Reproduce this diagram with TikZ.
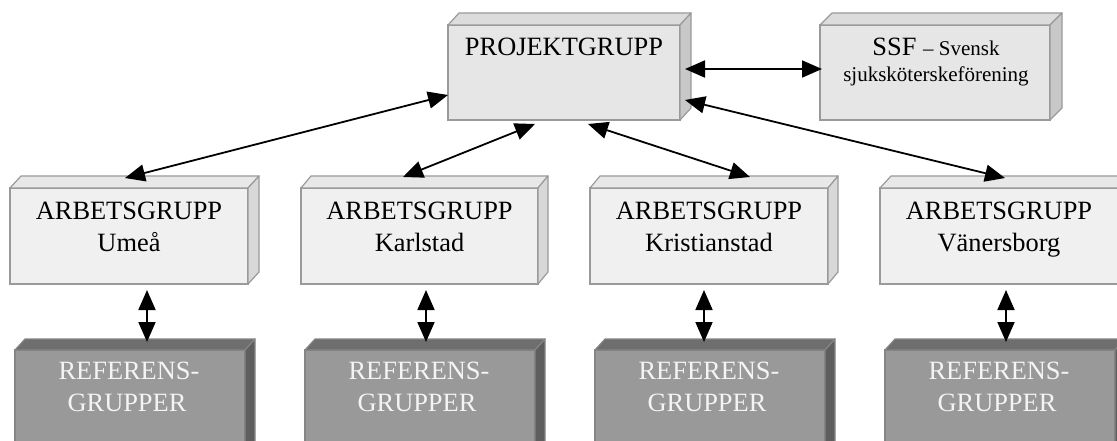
\documentclass[tikz,border=0pt]{standalone}
\usepackage{fontspec}
\setmainfont{Liberation Serif}
\usetikzlibrary{arrows.meta,calc}
\definecolor{projfront}{HTML}{E6E6E6}
\definecolor{projtop}{HTML}{DCDCDC}
\definecolor{projside}{HTML}{C8C8C8}
\definecolor{projedge}{HTML}{9A9A9A}
\definecolor{arbfront}{HTML}{F0F0F0}
\definecolor{arbtop}{HTML}{E8E8E8}
\definecolor{arbside}{HTML}{D8D8D8}
\definecolor{arbedge}{HTML}{9A9A9A}
\definecolor{reffront}{HTML}{999999}
\definecolor{reftop}{HTML}{6E6E6E}
\definecolor{refside}{HTML}{5E5E5E}
\definecolor{refedge}{HTML}{858585}
\definecolor{reftext}{HTML}{F4F4F4}
\newcommand{\bigtxt}{\fontsize{26.4}{32}\selectfont}
\newcommand{\smalltxt}{\fontsize{21}{26}\selectfont}
\tikzset{
  face/.style={anchor=north west, inner sep=0pt, outer sep=0pt, line width=1.2pt},
  lbl/.style={anchor=base, inner sep=0pt, font=\bigtxt},
  reflbl/.style={lbl, text=reftext},
  arr/.style={{Triangle[length=20pt,width=17pt]}-{Triangle[length=20pt,width=17pt]}, line width=1.8pt, black},
}
% name, x, y, w, h, prefix, dx, dy
\newcommand{\boxc}[8]{%
  \node[face, draw=#6edge, fill=#6front, minimum width=#4pt, minimum height=#5pt] (#1) at (#2,#3) {};
  \filldraw[draw=#6edge, fill=#6top, line width=1.2pt, line join=round]
    (#1.north west) -- ([shift={(#7,-#8)}]#1.north west) -- ([shift={(#7,-#8)}]#1.north east) -- (#1.north east) -- cycle;
  \filldraw[draw=#6edge, fill=#6side, line width=1.2pt, line join=round]
    (#1.north east) -- ([shift={(#7,-#8)}]#1.north east) -- ([shift={(#7,-#8)}]#1.south east) -- (#1.south east) -- cycle;
}
\begin{document}
\begin{tikzpicture}[x=1pt,y=-1pt]
\clip (0,0) rectangle (1117,441);
\fill[white] (0,0) rectangle (1117,441);

% top row
\boxc{proj}{448}{25}{232}{95}{proj}{11}{12}
\boxc{ssf}{820}{25}{230}{95}{proj}{12}{12}
\node[lbl] (projt) at ($(proj.north)+(0,31)$) {PROJEKTGRUPP};
\node[lbl] (ssft1) at ($(ssf.north)+(1,31)$) {SSF {\smalltxt – Svensk}};
\node[lbl, font=\smalltxt] (ssft2) at ($(ssf.north)+(1,57)$) {sjuksköterskeförening};

% middle row
\boxc{ume}{10}{188}{238}{96}{arb}{11}{12}
\boxc{kar}{301}{188}{237}{96}{arb}{10}{12}
\boxc{kri}{590}{188}{238}{96}{arb}{10}{12}
\boxc{van}{880}{188}{238}{96}{arb}{11}{12}
\node[lbl] (umet1) at ($(ume.north)+(0,31)$) {ARBETSGRUPP};
\node[lbl] (umet2) at ($(ume.north)+(0,63)$) {Umeå};
\node[lbl] (kart1) at ($(kar.north)+(0,31)$) {ARBETSGRUPP};
\node[lbl] (kart2) at ($(kar.north)+(0,63)$) {Karlstad};
\node[lbl] (krit1) at ($(kri.north)+(0,31)$) {ARBETSGRUPP};
\node[lbl] (krit2) at ($(kri.north)+(0,63)$) {Kristianstad};
\node[lbl] (vant1) at ($(van.north)+(0,31)$) {ARBETSGRUPP};
\node[lbl] (vant2) at ($(van.north)+(0,63)$) {Vänersborg};

% bottom row
\boxc{refa}{15}{350}{230}{110}{ref}{10}{11}
\boxc{refb}{305}{350}{230}{110}{ref}{10}{11}
\boxc{refc}{595}{350}{230}{110}{ref}{10}{11}
\boxc{refd}{885}{350}{230}{110}{ref}{10}{11}
\foreach \r in {refa,refb,refc,refd}{
  \node[reflbl] (\r t1) at ($(\r.north)+(-1,29)$) {REFERENS-};
  \node[reflbl] (\r t2) at ($(\r.north)+(-3,61)$) {GRUPPER};
}

% connectors
\draw[arr] ($(proj.south west)+(0,-25)$) -- ($(ume.north)+(-4,-10)$);
\draw[arr] ($(proj.south)+(-29,4)$) -- ($(kar.north)+(-16.5,-11)$);
\draw[arr] ($(proj.south)+(24,4)$) -- ($(kri.north)+(41,-11)$);
\draw[arr] ($(proj.south east)+(5,-20)$) -- ($(van.north)+(6,-10)$);
\draw[arr] ($(proj.east)+(5,-3.5)$) -- ($(ssf.west)+(2,-3.5)$);

\draw[arr] ($(ume.south)+(18,6)$) -- ($(refa.north)+(17,-8)$);
\draw[arr] ($(kar.south)+(6.5,6)$) -- ($(refb.north)+(6,-8)$);
\draw[arr] ($(kri.south)+(-5,6)$) -- ($(refc.north)+(-6,-8)$);
\draw[arr] ($(van.south)+(7,6)$) -- ($(refd.north)+(6,-8)$);
\end{tikzpicture}
\end{document}
